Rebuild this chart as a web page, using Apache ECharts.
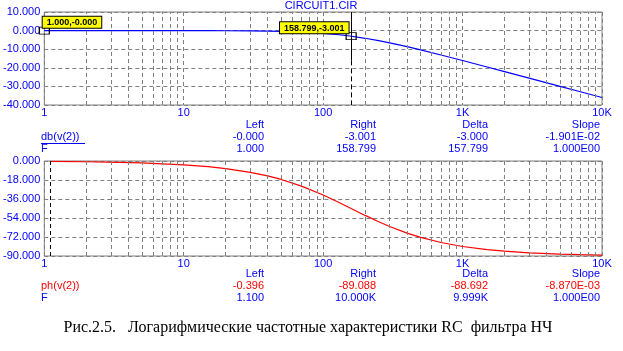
<!DOCTYPE html>
<html><head><meta charset="utf-8">
<script src="https://cdn.jsdelivr.net/npm/echarts@6/dist/echarts.min.js"></script>
<style>html,body{margin:0;padding:0;background:#fff}#c{width:623px;height:351px}</style>
</head><body><div id="c"></div>
<script>
// ---- data ----
const freqs = [1,2,5,10,15,20,30,40,50,70,100,130,160,200,250,300,400,500,700,1000,1500,2000,3000,5000,7000,10000];
const gainDb = [0,-0.001,-0.004,-0.017,-0.039,-0.068,-0.152,-0.267,-0.41,-0.77,-1.45,-2.23,-3.04,-4.13,-5.41,-6.60,-8.66,-10.38,-13.10,-16.09,-19.55,-22.03,-25.54,-29.97,-32.89,-35.98];
const phaseFreqs = [1.1,2,5,10,15,20,30,40,50,70,100,130,160,200,250,300,400,500,700,1000,1500,2000,3000,5000,7000,10000];
const phaseDeg = [-0.40,-0.72,-1.80,-3.60,-5.40,-7.18,-10.70,-14.14,-17.48,-23.79,-32.20,-39.30,-45.22,-51.55,-57.58,-62.11,-68.35,-72.38,-77.22,-80.98,-83.96,-85.46,-86.97,-88.18,-88.70,-89.09];
const xTickLabels = {1:'1',10:'10',100:'100',1000:'1K',10000:'10K'};
const cursorTop = {left:[1.000,-0.000], right:[158.799,-3.001]};
const cursorLabels = ['1.000,-0.000','158.799,-3.001'];
const cursorBottomLeft = 1.1;
const tableHeaders = ['Left','Right','Delta','Slope'];
const dbRow = ['-0.000','-3.001','-3.000','-1.901E-02'];
const fRow1 = ['1.000','158.799','157.799','1.000E00'];
const phRow = ['-0.396','-89.088','-88.692','-8.870E-03'];
const fRow2 = ['1.100','10.000K','9.999K','1.000E00'];
const titleText = 'CIRCUIT1.CIR';
const captionText = 'Рис.2.5.   Логарифмические частотные характеристики RC  фильтра НЧ';

// ---- styling ----
const BLUE = '#0000ff', RED = '#ff0000', GRAY = '#808080';
const FONT = 'Liberation Sans, Arial, sans-serif';
const FS = 11;
const minorGrid = [];
for (const d of [1,10,100,1000]) for (let k=2;k<=9;k++) minorGrid.push(d*k);

const chart = echarts.init(document.getElementById('c'), null, {renderer:'canvas'});
function xAxisFor(gi){
  return {type:'log', logBase:10, min:1, max:10000, gridIndex:gi,
    axisLine:{show:false}, axisTick:{show:false},
    axisLabel:{color:BLUE, fontSize:FS, fontFamily:FONT, margin:2, formatter:v=>xTickLabels[Math.round(v)]||''},
    splitLine:{show:true, lineStyle:{color:GRAY, type:[4,3], width:1}}};
}
function yAxisFor(gi,min,max,interval){
  return {type:'value', gridIndex:gi, min:min, max:max, interval:interval,
    axisLine:{show:false}, axisTick:{show:false},
    axisLabel:{color:BLUE, fontSize:FS, fontFamily:FONT, margin:4, formatter:v=>v.toFixed(3)},
    splitLine:{show:true, lineStyle:{color:GRAY, type:[4,3], width:1}}};
}
function gridLinesSeries(xi, yi){
  return {type:'line', xAxisIndex:xi, yAxisIndex:yi, data:[], silent:true,
    markLine:{silent:true, symbol:'none', label:{show:false},
      lineStyle:{color:GRAY, type:[4,3], width:1},
      data:minorGrid.map(v=>({xAxis:v}))}};
}
const labelStyle = {show:true, color:'#000', fontSize:9, fontWeight:'bold', fontFamily:FONT,
  backgroundColor:'#ffff00', borderColor:'#000', borderWidth:1, padding:[1,4,0,4], lineHeight:10};

const texts = [];
function t(text,x,y,color,align,extra){
  texts.push({type:'text', silent:true, style:Object.assign({text:text, x:x, y:y, fill:color, font:FS+'px '+FONT, align:align||'left', verticalAlign:'middle'}, extra||{})});
}
const colR = [264,376,488,600];
tableHeaders.forEach((h,i)=>t(h,colR[i],125,BLUE,'right'));
dbRow.forEach((h,i)=>t(h,colR[i],137,BLUE,'right'));
fRow1.forEach((h,i)=>t(h,colR[i],149,BLUE,'right'));
t('db(v(2))',41,137,BLUE,'left');
t('F',41,149,BLUE,'left');
tableHeaders.forEach((h,i)=>t(h,colR[i],274,BLUE,'right'));
phRow.forEach((h,i)=>t(h,colR[i],286,RED,'right'));
fRow2.forEach((h,i)=>t(h,colR[i],298,BLUE,'right'));
t('ph(v(2))',41,286,RED,'left');
t('F',41,298,BLUE,'left');
t(titleText,321,6,BLUE,'center');
texts.push({type:'line', silent:true, shape:{x1:41,y1:143.5,x2:85,y2:143.5}, style:{stroke:BLUE, lineWidth:1}});
texts.push({type:'text', silent:true, style:{text:captionText, x:308, y:328, fill:'#000', font:'16px Liberation Serif, Times New Roman, serif', align:'center', verticalAlign:'middle'}});

chart.setOption({
  animation:false,
  grid:[
    {left:42, top:12, width:560, height:93, show:true, borderColor:GRAY, borderWidth:1, backgroundColor:'transparent'},
    {left:42, top:161, width:560, height:95, show:true, borderColor:GRAY, borderWidth:1, backgroundColor:'transparent'}
  ],
  xAxis:[xAxisFor(0), xAxisFor(1)],
  yAxis:[yAxisFor(0,-40,10,10), yAxisFor(1,-90,0,18)],
  series:[
    gridLinesSeries(0,0),
    gridLinesSeries(1,1),
    {type:'line', xAxisIndex:0, yAxisIndex:0, showSymbol:false, smooth:false,
      lineStyle:{color:BLUE, width:1.2}, itemStyle:{color:BLUE},
      data:freqs.map((f,i)=>[f,gainDb[i]]),
      markLine:{silent:true, symbol:'none', label:{show:false},
        data:[
          [{coord:[cursorTop.right[0],10], lineStyle:{color:'#000',type:'solid',width:1}},{coord:[cursorTop.right[0],-16]}],
          [{coord:[cursorTop.right[0],-16], lineStyle:{color:'#000',type:[5,3],width:1}},{coord:[cursorTop.right[0],-40]}]
        ]},
      markPoint:{silent:true, symbol:'rect', symbolSize:[10,7],
        itemStyle:{color:'rgba(0,0,0,0)', borderColor:'#000', borderWidth:1},
        data:[
          {coord:cursorTop.left, label:Object.assign({}, labelStyle, {formatter:cursorLabels[0], position:[4,-10], align:'left'})},
          {coord:cursorTop.right, label:Object.assign({}, labelStyle, {formatter:cursorLabels[1], position:[3,-10], align:'right'})}
        ]}
    },
    {type:'line', xAxisIndex:1, yAxisIndex:1, showSymbol:false, smooth:false,
      lineStyle:{color:RED, width:1.2}, itemStyle:{color:RED},
      data:phaseFreqs.map((f,i)=>[f,phaseDeg[i]]),
      markLine:{silent:true, symbol:'none', label:{show:false},
        lineStyle:{color:'#000', type:[4,3], width:1},
        data:[{xAxis:cursorBottomLeft}]}
    }
  ],
  graphic:texts
});
</script></body></html>
